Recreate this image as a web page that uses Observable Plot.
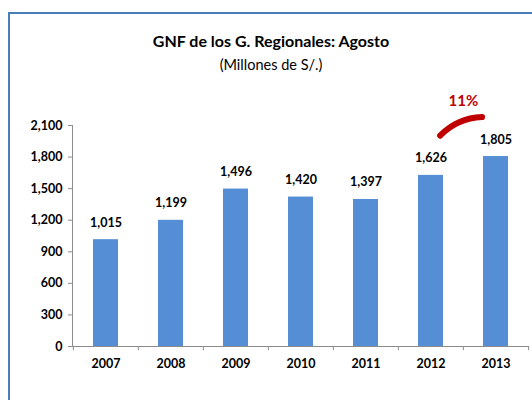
<!DOCTYPE html>
<html>
<head>
<meta charset="utf-8">
<script src="https://cdn.jsdelivr.net/npm/d3@7"></script>
<script src="https://cdn.jsdelivr.net/npm/@observablehq/plot@0.6"></script>
<style>
  html, body { margin: 0; padding: 0; background: #fff; }
  #page { position: relative; width: 532px; height: 400px; overflow: hidden; background: #fff; font-family: Lato, "Open Sans", sans-serif; }
  #frame { position: absolute; left: 8px; top: 12px; right: -10px; bottom: -10px; border-left: 2px solid #4a7ebb; border-top: 2px solid #4a7ebb; }
  #title { position: absolute; left: 10px; right: 0; top: 31px; text-align: center; font-weight: bold; font-size: 16px; color: #000; }
  #subtitle { position: absolute; left: 10px; right: 0; top: 56px; text-align: center; font-size: 14.5px; color: #000; }
  #chart { position: absolute; left: 0; top: 85px; }
</style>
</head>
<body>
<div id="page">
  <div id="frame"></div>
  <div id="title">GNF de los G. Regionales: Agosto</div>
  <div id="subtitle">(Millones de S/.)</div>
  <div id="chart"></div>
</div>
<script>
const years = ["2007", "2008", "2009", "2010", "2011", "2012", "2013"];
const values = [1015, 1199, 1496, 1420, 1397, 1626, 1805];
const yTicks = [0, 300, 600, 900, 1200, 1500, 1800, 2100];
const growthFrom = ["2012"];
const growthTo = ["2013"];
const growthStartY = [1890];
const growthEndY = [2170];
const growthLabel = ["11%"];
const growthLabelY = [2330];

const data = years.map((y, i) => ({year: y, value: values[i]}));
const growth = growthFrom.map((f, i) => ({from: f, to: growthTo[i], y1: growthStartY[i], y2: growthEndY[i], label: growthLabel[i], ly: growthLabelY[i]}));

const W = 532, H = 315, mL = 72, mR = 3, mT = 40, mB = 54;
const bw = (W - mL - mR) / years.length;
const fmt = d3.format(",");

const plot = Plot.plot({
  width: W,
  height: H,
  marginLeft: mL,
  marginRight: mR,
  marginTop: mT,
  marginBottom: mB,
  style: {fontFamily: "Lato, 'Open Sans', sans-serif", color: "#000", background: "transparent"},
  x: {type: "band", domain: years, paddingInner: 0.61, paddingOuter: 0.305, axis: null},
  y: {domain: [0, 2100], axis: null},
  marks: [
    Plot.barY(data, {x: "year", y: "value", fill: "#558ed5"}),
    Plot.text(data, {x: "year", y: "value", text: d => fmt(d.value), dy: -13, lineAnchor: "bottom", fontWeight: "bold", fontSize: 12.5, fill: "#000"}),
    Plot.frame({anchor: "left", stroke: "#8c8c8c"}),
    Plot.ruleY([0], {stroke: "#8c8c8c"}),
    Plot.ruleX(years, {x: d => d, y1: 0, y2: -40, dx: -bw / 2, stroke: "#8c8c8c"}),
    Plot.ruleX(years.slice(-1), {x: d => d, y1: 0, y2: -40, dx: bw / 2, stroke: "#8c8c8c"}),
    Plot.axisY({ticks: yTicks, tickSize: 4, tickPadding: 6, tickFormat: fmt, fontWeight: "bold", fontSize: 12.5, stroke: "#8c8c8c", fill: "#000", label: null}),
    Plot.axisX({tickSize: 0, tickPadding: 13, fontWeight: "bold", fontSize: 12.5, fill: "#000", label: null}),
    Plot.arrow(growth, {x1: "from", x2: "to", y1: "y1", y2: "y2", bend: 35, headLength: 0, insetStart: 15, insetEnd: 14, stroke: "#c00000", strokeWidth: 6, strokeLinecap: "round"}),
    Plot.text(growth, {x: "to", y: "ly", text: "label", dx: -bw / 2, fill: "#c00000", fontWeight: "bold", fontSize: 15})
  ]
});
document.getElementById("chart").appendChild(plot);
</script>
</body>
</html>
